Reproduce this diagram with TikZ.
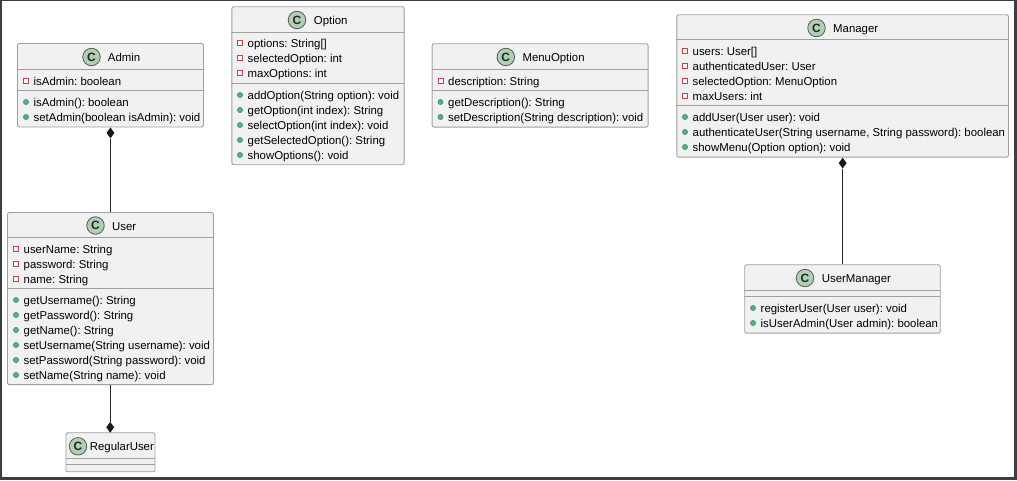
\documentclass[tikz,border=0pt]{standalone}
\usepackage{fontspec}
\setmainfont{Liberation Sans}
\frenchspacing
\usetikzlibrary{shapes.geometric,calc}
\definecolor{frameC}{HTML}{3A3F44}
\definecolor{boxC}{HTML}{F1F1F1}
\definecolor{lineC}{HTML}{A0A0A0}
\definecolor{spotC}{HTML}{ADD1B2}
\definecolor{privC}{HTML}{C8414A}
\definecolor{pubC}{HTML}{55AE7C}
\definecolor{pubD}{HTML}{3F9A6A}
\tikzset{
  x=1pt,y=-1pt,
  classbox/.style={draw=lineC,fill=boxC,line width=0.9pt,rounded corners=2pt,inner sep=0,anchor=north west},
  sepline/.style={draw=lineC,line width=0.9pt},
  titletext/.style={font=\fontsize{11.4}{12}\selectfont,inner sep=0,text=black},
  rowtext/.style={font=\fontsize{11.4}{12}\selectfont,inner sep=0,anchor=base west,text=black},
  badge/.style={circle,draw=black!65,fill=spotC,line width=0.8pt,minimum size=17.5pt,inner sep=0,text=black!85,font=\bfseries\fontsize{12}{13}\selectfont},
  privmark/.style={draw=privC,fill=white,line width=0.8pt,minimum size=5.2pt,inner sep=0},
  pubmark/.style={circle,draw=pubD,fill=pubC,line width=0.6pt,minimum size=5.2pt,inner sep=0},
  link/.style={draw=black!85,line width=0.9pt},
  tipmark/.style={diamond,fill=black!90,inner sep=0,minimum width=8pt,minimum height=11pt},
}
% #1 id, #2 left, #3 top, #4 right, #5 bottom
\newcommand{\classbody}[5]{%
  \node[classbox,minimum width=#4pt-#2pt,minimum height=#5pt-#3pt] (#1) at (#2,#3) {};%
}
\newcommand{\sep}[4]{\draw[sepline] (#2,#1) -- (#3,#1);}
\newcommand{\priv}[4]{%
  \node[privmark] (#1m) at (#2+6,#3-4) {};%
  \node[rowtext] (#1t) at (#2+13.5,#3) {#4};}
\newcommand{\pub}[4]{%
  \node[pubmark] (#1m) at (#2+6,#3-4) {};%
  \node[rowtext] (#1t) at (#2+13.5,#3) {#4};}
\begin{document}
\begin{tikzpicture}
\useasboundingbox (0,0) rectangle (1017,480);
\fill[frameC] (0,0) rectangle (1017,480);
\fill[white] (2,1) rectangle (1014,477);

% Admin
\classbody{admin}{17}{43}{203}{126.5}
\sep{69.3}{17}{203}{}
\sep{90.3}{17}{203}{}
\node[badge] (adminb) at (91.5,57) {C};
\node[titletext,anchor=base west] (admint) at (107.7,61) {Admin};
\priv{a1}{20}{85}{isAdmin: boolean}
\pub{a2}{20}{106}{isAdmin(): boolean}
\pub{a3}{20}{121}{setAdmin(boolean isAdmin): void}

% User
\classbody{user}{7}{212}{213}{384.2}
\sep{237.7}{7}{213}{}
\sep{288.7}{7}{213}{}
\node[badge] (userb) at (95.5,225.5) {C};
\node[titletext,anchor=base west] (usert) at (112,230) {User};
\priv{u1}{10}{253}{userName: String}
\priv{u2}{10}{268}{password: String}
\priv{u3}{10}{283}{name: String}
\pub{u4}{10}{304}{getUsername(): String}
\pub{u5}{10}{319}{getPassword(): String}
\pub{u6}{10}{334}{getName(): String}
\pub{u7}{10}{349}{setUsername(String username): void}
\pub{u8}{10}{364}{setPassword(String password): void}
\pub{u9}{10}{379}{setName(String name): void}

% RegularUser
\classbody{reg}{65.5}{432.3}{154.5}{471.3}
\sep{458.3}{65.5}{154.5}{}
\sep{464.3}{65.5}{154.5}{}
\node[badge] (regb) at (78,446.3) {C};
\node[titletext,anchor=base west] (regt) at (89.7,450) {RegularUser};

% Option
\classbody{opt}{231.4}{6.3}{403.7}{164.3}
\sep{32.7}{231.4}{403.7}{}
\sep{83.3}{231.4}{403.7}{}
\node[badge] (optb) at (297,20) {C};
\node[titletext,anchor=base west] (optt) at (313.7,24) {Option};
\priv{o1}{234}{47}{options: String[]}
\priv{o2}{234}{62}{selectedOption: int}
\priv{o3}{234}{77}{maxOptions: int}
\pub{o4}{234}{99}{addOption(String option): void}
\pub{o5}{234}{114}{getOption(int index): String}
\pub{o6}{234}{129}{selectOption(int index): void}
\pub{o7}{234}{144}{getSelectedOption(): String}
\pub{o8}{234}{159}{showOptions(): void}

% MenuOption
\classbody{menu}{431.7}{43.3}{647.7}{126.7}
\sep{69.3}{431.7}{647.7}{}
\sep{90.7}{431.7}{647.7}{}
\node[badge] (menub) at (505.8,57) {C};
\node[titletext,anchor=base west] (menut) at (522.3,61) {MenuOption};
\priv{m1}{434.5}{85}{description: String}
\pub{m2}{434.5}{106}{getDescription(): String}
\pub{m3}{434.5}{121}{setDescription(String description): void}

% Manager
\classbody{mgr}{676.4}{14.3}{1008}{156.7}
\sep{39.3}{676.4}{1008}{}
\sep{105.3}{676.4}{1008}{}
\node[badge] (mgrb) at (816.5,28) {C};
\node[titletext,anchor=base west] (mgrt) at (833,32) {Manager};
\priv{g1}{679}{55}{users: User[]}
\priv{g2}{679}{70}{authenticatedUser: User}
\priv{g3}{679}{85}{selectedOption: MenuOption}
\priv{g4}{679}{100}{maxUsers: int}
\pub{g5}{679}{121}{addUser(User user): void}
\pub{g6}{679}{136}{authenticateUser(String username, String password): boolean}
\pub{g7}{679}{151}{showMenu(Option option): void}

% UserManager
\classbody{um}{744.3}{264.3}{939.8}{332.7}
\sep{290.3}{744.3}{939.8}{}
\sep{296.3}{744.3}{939.8}{}
\node[badge] (umb) at (805,278) {C};
\node[titletext,anchor=base west] (umt) at (821.7,282) {UserManager};
\pub{h1}{747}{312}{registerUser(User user): void}
\pub{h2}{747}{327}{isUserAdmin(User admin): boolean}

% Composition links
\node[tipmark] (d1) at ($(admin.south west)!0.5!(admin.south east)+(0,5.5)$) {};
\draw[link] (d1.south) -- (d1.south |- user.north);
\node[tipmark] (d2) at (110.2,427.3) {};
\draw[link] (d2.north) -- (d2.north |- user.south);
\node[tipmark] (d3) at ($(mgr.south west)!0.5!(mgr.south east)+(0,5.5)$) {};
\draw[link] (d3.south) -- (d3.south |- um.north);
\end{tikzpicture}
\end{document}
